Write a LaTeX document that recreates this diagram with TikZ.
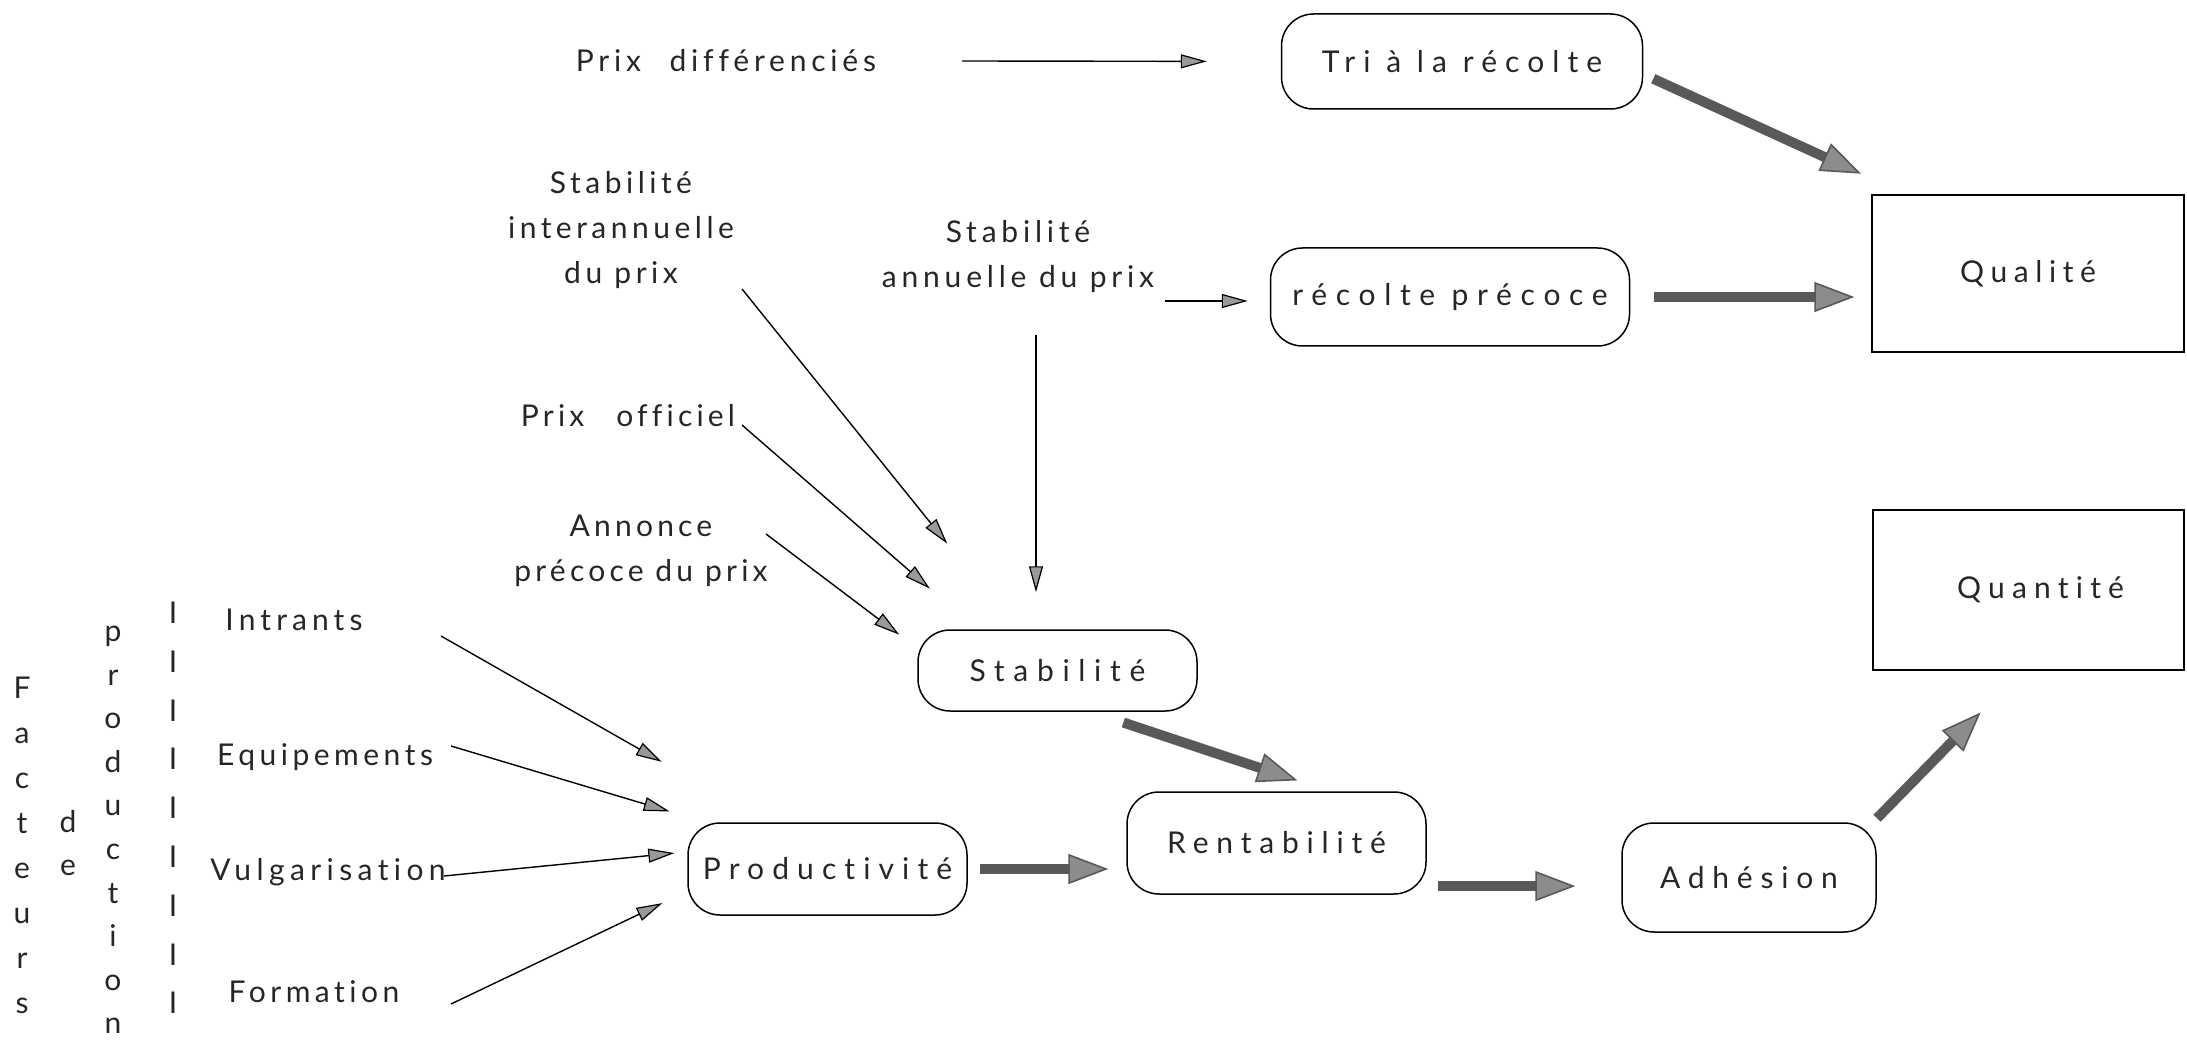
\documentclass[tikz,border=0pt]{standalone}
\usepackage{fontspec}
\setmainfont{Lato}[LetterSpace=12,Ligatures=NoCommon]
\usetikzlibrary{arrows.meta}
\newcommand\lsp[2]{{\addfontfeatures{LetterSpace=#1}#2}}
\begin{document}
\begin{tikzpicture}[x=0.5pt,y=-0.5pt,
  every node/.style={font=\fontsize{15}{22.5}\selectfont, inner sep=0pt, text=black!85},
  rbox/.style={draw, line width=0.75pt, rounded corners=16pt},
  sbox/.style={draw, line width=0.75pt},
  thinarr/.style={line width=0.7pt, -{Triangle[length=13pt,width=7pt,line width=0.6pt,fill=black!40]}},
  fatarr/.style={line width=5pt, draw=black!65, -{Triangle[length=20pt,width=15pt,line width=0.8pt,fill=black!45]}},
  vtxt/.style={align=center}]
\useasboundingbox (0,0) rectangle (2187,1042);

% boxes
\node[rbox, minimum width=180.5pt, minimum height=47.5pt] (tri) at (1462,61.5) {\lsp{27}{Tri à la récolte}};
\node[rbox, minimum width=179.5pt, minimum height=49pt] (prec) at (1450,297) {\lsp{29}{récolte précoce}};
\node[sbox, minimum width=156pt, minimum height=78.5pt, label={[name=qualtxt]center:\lsp{22}{Qualité}}] (qual) at (2028,273.5) {};
\node[sbox, minimum width=155.5pt, minimum height=80pt, label={[name=quanttxt, xshift=6pt]center:\lsp{24}{Quantité}}] (quant) at (2028.5,590) {};
\node[rbox, minimum width=139.5pt, minimum height=40.5pt] (stab) at (1057.5,670.5) {\lsp{29}{Stabilité}};
\node[rbox, minimum width=149.5pt, minimum height=51pt] (rent) at (1276.5,843) {\lsp{26}{Rentabilité}};
\node[rbox, minimum width=139.5pt, minimum height=46pt] (prod) at (827.5,869) {\lsp{27}{Productivité}};
\node[rbox, minimum width=127pt, minimum height=54.5pt] (adh) at (1749,877.5) {\lsp{26}{Adhésion}};

% labels
\node (pd) at (726,61) {\lsp{16}{Prix\hspace{8pt} différenciés}};
\node[align=center] (inter) at (621,230) {\lsp{15}{Stabilité}\\\lsp{15}{interannuelle}\\\lsp{15}{du prix}};
\node[align=center] (annu) at (1018,257) {\lsp{16}{Stabilité}\\\lsp{16}{annuelle du prix}};
\node (off) at (628,416) {\lsp{14}{Prix\hspace{10pt} officiel}};
\node[align=center] (annonce) at (641,551) {\lsp{14}{Annonce}\\\lsp{14}{précoce du prix}};
\node (intr) at (294,620) {\lsp{17}{Intrants}};
\node (equip) at (325,757) {\lsp{15}{Equipements}};
\node (vulg) at (328,872) {\lsp{18}{Vulgarisation}};
\node (form) at (314,992) {\lsp{15}{Formation}};

% vertical texts
\node[vtxt, font=\fontsize{15}{22.5}\selectfont] (fact) at (22,845) {F\\a\\c\\t\\e\\u\\r\\s};
\node[vtxt, font=\fontsize{15}{21.5}\selectfont] (de) at (68,843) {d\\e};
\node[vtxt, font=\fontsize{15}{21.8}\selectfont] (prodn) at (113,830) {p\\r\\o\\d\\u\\c\\t\\i\\o\\n};
\node[vtxt, font=\fontsize{15}{24.4}\selectfont] (bars) at (173,808) {I\\I\\I\\I\\I\\I\\I\\I\\I};

% tails of thin arrows
\coordinate (t1) at (962,61);
\coordinate (t2) at (1165,301);
\coordinate (t3) at (1036,335);
\coordinate (t4) at (742,289);
\coordinate (t5) at (742,425);
\coordinate (t6) at (766,534);
\coordinate (t7) at (441,636);
\coordinate (t8) at (451,746);
\coordinate (t9) at (444,876);
\coordinate (t10) at (451,1004);

\draw[thinarr, shorten >=37pt] (t1) -- (tri.west);
\draw[thinarr, shorten >=11pt] (t2) -- (t2 -| prec.west);
\draw[thinarr, shorten >=18.5pt] (t3) -- (t3 |- stab.north);
\draw[thinarr, shorten >=55pt] (t4) -- (stab.135);
\draw[thinarr, shorten >=31pt] (t5) -- (stab.153.4);
\draw[thinarr, shorten >=11.3pt] (t6) -- (stab.171.3);
\draw[thinarr, shorten >=61pt] (t7) -- (prod.142.5);
\draw[thinarr, shorten >=18.8pt] (t8) -- (prod.159.4);
\draw[thinarr, shorten >=6.5pt] (t9) -- (prod.173.4);
\draw[thinarr, shorten >=13.8pt] (t10) -- (prod.189.4);

% thick arrows
\draw[fatarr, shorten <=5.5pt, shorten >=24.7pt] (tri.356.6) -- (qual.147.1);
\draw[fatarr, shorten <=12pt, shorten >=8.5pt] (prec.east) -- (prec.east -| qual.west);
\draw[fatarr, shorten <=17.1pt, shorten >=17.2pt] (stab.309.3) -- (rent.44);
\draw[fatarr, shorten <=6pt, shorten >=9pt] (prod.east) -- (prod.east -| rent.west);
\draw[fatarr, shorten <=5.5pt, shorten >=23pt] (rent.-16) -- (rent.-16 -| adh.west);
\draw[fatarr, shorten <=2.8pt, shorten >=29.2pt] (adh.24.6) -- (quant.265.6);
\end{tikzpicture}
\end{document}
